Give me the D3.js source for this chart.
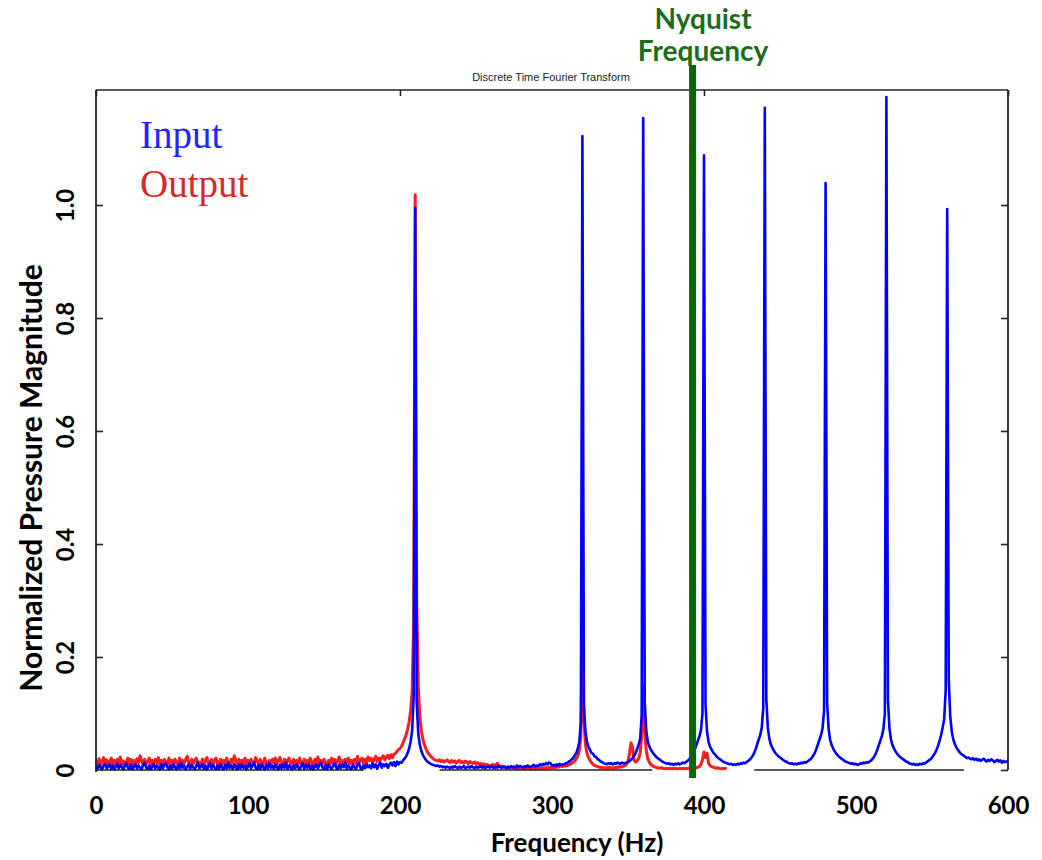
<!DOCTYPE html>
<html><head><meta charset="utf-8">
<script src="https://cdn.jsdelivr.net/npm/d3@7"></script>
<style>
html,body{margin:0;padding:0;background:#fff;}
svg{display:block;}
</style></head>
<body>
<svg id="chart" width="1042" height="860"></svg>
<script>
// ---------- DATA ----------
const chartTitle = "Discrete Time Fourier Transform";
const xLabel = "Frequency (Hz)";
const yLabel = "Normalized Pressure Magnitude";
const seriesNames = ["Input", "Output"];
const xTicks = [0, 100, 200, 300, 400, 500, 600];
const xTickLabels = ["0", "100", "200", "300", "400", "500", "600"];
const yTicks = [0, 0.2, 0.4, 0.6, 0.8, 1.0];
const yTickLabels = ["0", "0.2", "0.4", "0.6", "0.8", "1.0"];
const topTicks = [0, 200, 400, 600];
const nyquistFreq = [392.5];
const nyquistLabel = ["Nyquist", "Frequency"];
const freqStep = 1; // Hz between samples, both series start at 0 Hz
const bottomAxisPieces = [[0, 176], [226, 366], [433, 571]];

// Input spectrum (blue), 0..600 Hz
const inputMag = [
.007,.002,.009,.004,.001,.008,.011,.003,.006,.010,
.002,.008,.001,.006,.011,.003,.009,.005,.001,.008,
.012,.004,.002,.009,.001,.006,.010,.003,.008,.004,
.001,.009,.013,.004,.002,.008,.001,.006,.010,.003,
.008,.004,.001,.010,.003,.009,.012,.005,.001,.008,
.002,.010,.005,.001,.009,.003,.012,.004,.008,.001,
.006,.010,.002,.009,.004,.001,.008,.013,.003,.006,
.010,.002,.008,.001,.006,.012,.003,.009,.004,.001,
.008,.002,.010,.005,.001,.009,.003,.012,.004,.008,
.002,.010,.005,.001,.009,.003,.010,.004,.008,.001,
.006,.012,.003,.008,.014,.004,.001,.009,.002,.010,
.005,.001,.009,.003,.012,.004,.008,.002,.010,.005,
.001,.009,.003,.010,.004,.013,.002,.008,.005,.001,
.009,.003,.010,.005,.001,.008,.012,.002,.009,.004,
.010,.002,.008,.001,.006,.010,.003,.009,.013,.004,
.002,.009,.001,.010,.005,.002,.008,.012,.004,.001,
.009,.003,.010,.005,.013,.002,.008,.004,.001,.010,
.005,.002,.009,.012,.004,.001,.008,.003,.010,.005,
.008,.003,.012,.005,.010,.002,.009,.013,.004,.010,
.007,.011,.004,.010,.013,.008,.014,.007,.015,.010,
.014,.013,.017,.020,.024,.030,.038,.050,.070,.130,
.995,.120,.065,.045,.034,.027,.022,.018,.015,.013,
.011,.010,.009,.008,.007,.008,.006,.007,.005,.006,
.004,.006,.005,.003,.006,.004,.007,.005,.003,.006,
.004,.005,.007,.003,.005,.006,.004,.007,.005,.003,
.006,.004,.005,.007,.004,.006,.003,.005,.007,.004,
.006,.005,.003,.006,.004,.007,.005,.004,.006,.005,
.003,.006,.004,.007,.005,.006,.004,.008,.005,.007,
.006,.004,.007,.005,.008,.006,.005,.007,.009,.006,
.008,.007,.010,.008,.011,.009,.012,.010,.013,.012,
.008,.009,.007,.010,.008,.011,.009,.010,.010,.012,
.012,.015,.016,.019,.021,.026,.030,.038,.050,.085,
1.122,.115,.068,.050,.041,.036,.030,.029,.024,.023,
.019,.018,.015,.014,.012,.011,.010,.012,.011,.012,
.010,.012,.011,.013,.012,.011,.013,.012,.012,.013,
.014,.016,.018,.021,.025,.030,.037,.045,.055,.095,
1.154,.120,.070,.050,.042,.036,.032,.028,.025,.022,
.020,.018,.016,.014,.013,.012,.011,.012,.010,.011,
.009,.011,.010,.012,.010,.011,.013,.012,.014,.016,
.018,.021,.025,.030,.037,.044,.052,.060,.070,.100,
1.088,.115,.068,.050,.041,.036,.031,.028,.025,.022,
.020,.018,.016,.014,.013,.012,.011,.010,.011,.009,
.010,.009,.011,.010,.012,.011,.013,.012,.014,.016,
.018,.021,.025,.030,.037,.046,.054,.062,.075,.110,
1.172,.125,.075,.055,.045,.039,.034,.030,.027,.024,
.022,.020,.018,.016,.015,.013,.012,.011,.012,.010,
.011,.010,.012,.011,.013,.012,.014,.013,.015,.017,
.019,.022,.026,.031,.038,.046,.054,.062,.074,.105,
1.039,.120,.072,.053,.044,.038,.033,.029,.026,.023,
.021,.019,.017,.015,.014,.013,.012,.011,.012,.010,
.011,.009,.010,.012,.011,.013,.012,.014,.013,.015,
.017,.020,.024,.029,.036,.044,.052,.060,.072,.100,
1.191,.125,.074,.054,.044,.038,.033,.029,.026,.023,
.021,.019,.017,.015,.014,.012,.011,.010,.011,.009,
.010,.009,.011,.010,.012,.011,.013,.015,.017,.019,
.022,.026,.030,.036,.043,.052,.062,.075,.090,.140,
.993,.160,.095,.068,.054,.046,.040,.036,.032,.029,
.027,.025,.023,.021,.022,.020,.019,.021,.018,.020,
.017,.019,.016,.018,.020,.017,.015,.018,.016,.019,
.017,.014,.016,.018,.015,.017,.013,.016,.014,.015,
.016];

// Output spectrum (red), 0..415 Hz
const outputMag = [
.016,.010,.020,.009,.014,.022,.011,.018,.008,.015,
.021,.010,.017,.009,.019,.013,.023,.010,.016,.009,
.014,.021,.010,.019,.008,.017,.011,.020,.013,.025,
.017,.009,.019,.011,.014,.021,.009,.017,.011,.019,
.013,.022,.009,.017,.011,.019,.014,.009,.021,.011,
.017,.009,.019,.013,.010,.021,.009,.017,.012,.019,
.024,.013,.009,.019,.011,.017,.021,.010,.014,.009,
.019,.011,.017,.022,.009,.014,.019,.010,.017,.021,
.009,.014,.019,.011,.017,.009,.021,.013,.010,.019,
.013,.025,.017,.009,.019,.011,.017,.013,.021,.010,
.017,.009,.019,.013,.011,.022,.017,.009,.019,.013,
.010,.021,.013,.009,.017,.011,.019,.013,.021,.010,
.017,.022,.013,.009,.019,.011,.017,.021,.010,.014,
.019,.009,.017,.011,.021,.013,.009,.019,.013,.017,
.011,.021,.013,.009,.019,.013,.023,.010,.017,.011,
.019,.013,.009,.017,.011,.021,.013,.019,.010,.017,
.023,.010,.017,.009,.019,.013,.021,.011,.017,.013,
.019,.011,.024,.013,.017,.021,.011,.019,.013,.023,
.017,.021,.013,.019,.024,.015,.021,.017,.022,.025,
.018,.023,.026,.020,.027,.022,.028,.029,.033,.036,
.038,.042,.048,.055,.062,.072,.085,.105,.140,.260,
1.018,.300,.150,.095,.070,.055,.045,.038,.032,.028,
.025,.022,.020,.018,.017,.016,.018,.015,.017,.014,
.016,.018,.015,.013,.017,.014,.016,.012,.015,.017,
.013,.015,.012,.016,.014,.011,.015,.013,.012,.014,
.011,.013,.010,.012,.009,.011,.008,.010,.009,.007,
.008,.010,.007,.009,.012,.008,.006,.007,.005,.006,
.004,.005,.003,.004,.005,.003,.004,.002,.004,.003,
.003,.004,.002,.003,.004,.003,.002,.004,.003,.002,
.003,.004,.003,.002,.004,.003,.004,.003,.005,.004,
.004,.005,.004,.006,.005,.006,.007,.006,.008,.007,
.008,.009,.010,.012,.014,.016,.020,.025,.035,.060,
.244,.090,.045,.030,.022,.017,.013,.010,.008,.007,
.006,.005,.004,.005,.003,.004,.003,.004,.005,.004,
.003,.004,.005,.004,.006,.005,.006,.007,.008,.010,
.015,.030,.048,.040,.018,.014,.016,.020,.030,.060,
.150,.070,.035,.020,.014,.010,.008,.006,.005,.004,
.004,.003,.004,.003,.002,.003,.002,.003,.002,.003,
.002,.003,.002,.002,.003,.002,.003,.002,.003,.002,
.003,.002,.003,.004,.003,.004,.005,.006,.010,.018,
.032,.022,.030,.012,.008,.006,.005,.004,.003,.004,
.003,.002,.003,.002,.003,.002];

// ---------- CHART ----------
const svg = d3.select("#chart");
const L = 96, R = 1008, T = 90, B = 770;
const x = d3.scaleLinear().domain([0, 600]).range([L, R]);
const y = d3.scaleLinear().domain([0, (B - T) / 565]).range([B, T]);

const line = d3.line()
  .x((d, i) => x(i * freqStep))
  .y(d => y(d))
  .curve(d3.curveLinear);

const plot = svg.append("g");

// output (red) under input (blue)
plot.append("path").datum(outputMag)
  .attr("d", line).attr("fill", "none")
  .attr("stroke", "#ff1010").attr("stroke-width", 3)
  .attr("stroke-linejoin", "round").attr("opacity", 0.95);

plot.append("path").datum(inputMag)
  .attr("d", line).attr("fill", "none")
  .attr("stroke", "#0000ff").attr("stroke-width", 2.6)
  .attr("stroke-linejoin", "round");

// frame
const frame = svg.append("g").attr("stroke", "#222").attr("fill", "none");
frame.append("line").attr("x1", L).attr("x2", R).attr("y1", T).attr("y2", T).attr("stroke-width", 1.6);
frame.append("line").attr("x1", L).attr("x2", L).attr("y1", T).attr("y2", B + 2).attr("stroke-width", 1.8);
frame.append("line").attr("x1", R).attr("x2", R).attr("y1", T).attr("y2", B).attr("stroke-width", 1.8);
bottomAxisPieces.forEach(p => {
  frame.append("line").attr("x1", x(p[0])).attr("x2", x(p[1]))
    .attr("y1", B).attr("y2", B).attr("stroke-width", 1.4);
});

// inner ticks
const rightAxis = d3.axisLeft(y).tickValues(yTicks).tickSize(7).tickFormat("");
const ra = svg.append("g").attr("transform", `translate(${R},0)`).call(rightAxis);
ra.select(".domain").remove();
ra.selectAll("line").attr("stroke", "#222").attr("stroke-width", 1.6);

const leftAxis = d3.axisRight(y).tickValues(yTicks.filter(v => v > 0)).tickSize(7).tickFormat("");
const la = svg.append("g").attr("transform", `translate(${L},0)`).call(leftAxis);
la.select(".domain").remove();
la.selectAll("line").attr("stroke", "#222").attr("stroke-width", 1.6);

const topAxis = d3.axisBottom(x).tickValues(topTicks).tickSize(6).tickFormat("");
const ta = svg.append("g").attr("transform", `translate(0,${T})`).call(topAxis);
ta.select(".domain").remove();
ta.selectAll("line").attr("stroke", "#222").attr("stroke-width", 1.6);

// x tick labels
const xAxis = d3.axisBottom(x).tickValues(xTicks).tickSize(0).tickPadding(0)
  .tickFormat((d, i) => xTickLabels[i]);
const xa = svg.append("g").attr("transform", `translate(0,${B})`).call(xAxis);
xa.select(".domain").remove();
xa.selectAll("text")
  .attr("y", 44).attr("dy", null)
  .style("font-family", "Lato, 'Open Sans', sans-serif")
  .style("font-weight", "700").style("font-size", "24px").attr("fill", "#000");

// y tick labels (rotated)
const yAxis = d3.axisLeft(y).tickValues(yTicks).tickSize(0).tickPadding(0)
  .tickFormat((d, i) => yTickLabels[i]);
const ya = svg.append("g").attr("transform", `translate(0,0)`).call(yAxis);
ya.select(".domain").remove();
ya.selectAll(".tick text")
  .attr("x", null).attr("dy", null)
  .attr("transform", "translate(74,0) rotate(-90)")
  .attr("text-anchor", "middle")
  .style("font-family", "Lato, 'Open Sans', sans-serif")
  .style("font-weight", "700").style("font-size", "24px").attr("fill", "#000");

// axis titles
svg.append("text").attr("x", 577).attr("y", 852).attr("text-anchor", "middle")
  .style("font-family", "Lato, 'Open Sans', sans-serif").style("font-weight", "700")
  .style("font-size", "26px").attr("fill", "#000").text(xLabel);
svg.append("text").attr("transform", "translate(42,478) rotate(-90)").attr("text-anchor", "middle")
  .style("font-family", "Lato, 'Open Sans', sans-serif").style("font-weight", "700")
  .style("font-size", "30px").attr("fill", "#000").text(yLabel);

// title
svg.append("text").attr("x", 551).attr("y", 81).attr("text-anchor", "middle")
  .style("font-family", "'Liberation Sans', Arial, sans-serif")
  .style("font-size", "11px").attr("fill", "#222").text(chartTitle);

// legend
const legendColors = ["#2424ff", "#d42a2a"];
seriesNames.forEach((n, i) => {
  svg.append("text").attr("x", 140).attr("y", 148 + i * 49)
    .style("font-family", "'Liberation Serif', 'DejaVu Serif', serif")
    .style("font-size", "39px").attr("fill", legendColors[i]).text(n);
});

// Nyquist marker
svg.append("line").attr("x1", x(nyquistFreq[0])).attr("x2", x(nyquistFreq[0]))
  .attr("y1", 65).attr("y2", 778)
  .attr("stroke", "#0a640a").attr("stroke-width", 7);
nyquistLabel.forEach((t, i) => {
  svg.append("text").attr("x", 703).attr("y", 29 + i * 32).attr("text-anchor", "middle")
    .style("font-family", "Lato, 'Open Sans', sans-serif").style("font-weight", "700")
    .style("font-size", "28px").attr("fill", "#1a6e1a").text(t);
});
</script>
</body></html>
